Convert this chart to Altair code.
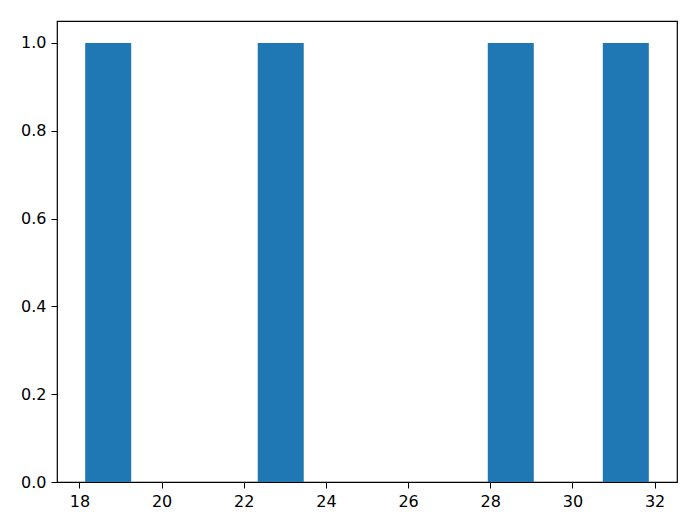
import altair as alt
import pandas as pd

# data
values = [18.0, 23.0, 28.5, 32.0]
bin_start = 18.0
bin_stop = 32.0
n_bins = 10
rwidth = 0.8
x_ticks = [18, 20, 22, 24, 26, 28, 30, 32]
y_ticks = [0.0, 0.2, 0.4, 0.6, 0.8, 1.0]

step = (bin_stop - bin_start) / n_bins
inset = (1 - rwidth) / 2 * step
span = (bin_stop - bin_start) - 2 * inset
x_dom = [bin_start + inset - 0.05 * span, bin_stop - inset + 0.05 * span]

df = pd.DataFrame({"value": values})

axis_common = dict(
    domain=False,
    grid=False,
    ticks=True,
    tickColor="black",
    tickSize=6,
    tickWidth=1,
    labelColor="black",
    labelFont="DejaVu Sans",
    labelFontSize=16,
    labelPadding=5,
    title=None,
)

chart = (
    alt.Chart(df)
    .transform_bin(as_=["b0", "b1"], field="value",
                   bin=alt.Bin(extent=[bin_start, bin_stop], step=step, nice=False))
    .transform_aggregate(count="count()", groupby=["b0", "b1"])
    .transform_calculate(x0=f"datum.b0 + {inset}", x1=f"datum.b1 - {inset}")
    .mark_bar(color="#1f77b4")
    .encode(
        x=alt.X("x0:Q",
                scale=alt.Scale(domain=x_dom, nice=False, zero=False),
                axis=alt.Axis(values=x_ticks, format="d", **axis_common)),
        x2="x1:Q",
        y=alt.Y("count:Q",
                scale=alt.Scale(domain=[0, 1.05], nice=False),
                axis=alt.Axis(values=y_ticks, format=".1f", **axis_common)),
        y2=alt.datum(0),
    )
    .properties(
        width=620,
        height=461,
        autosize=alt.AutoSizeParams(type="none"),
        padding={"left": 49, "top": 13, "right": 13, "bottom": 30},
    )
    .configure(background="white",
               view=alt.ViewConfig(stroke="black", strokeWidth=1.2))
)

chart.save("out.html", embed_options={"renderer": "svg", "actions": False})
